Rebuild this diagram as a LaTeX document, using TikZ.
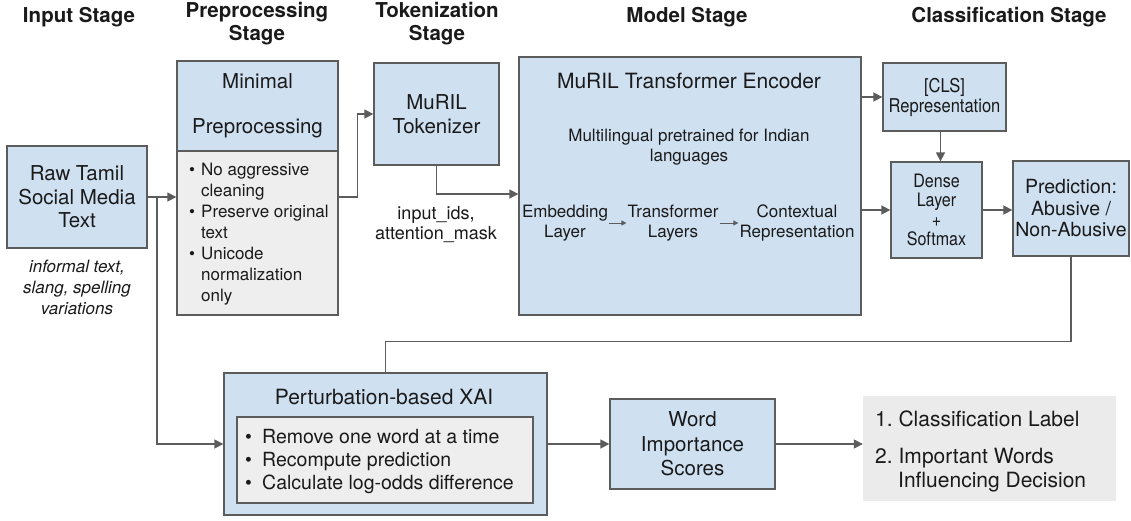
\documentclass[tikz,border=0pt]{standalone}
\usepackage{fontspec}
\setmainfont{TeX Gyre Heros}
\newfontfamily\narrowsans[FakeStretch=0.87]{TeX Gyre Heros}
\usetikzlibrary{arrows.meta,calc}
\definecolor{boxblue}{HTML}{CFE0F1}
\definecolor{boxgrey}{HTML}{EEEEEE}
\definecolor{outgrey}{HTML}{EBEBEB}
\definecolor{edgegrey}{HTML}{5C5C5C}
\definecolor{ink}{HTML}{1A1A1A}
\newcommand\setfs[2]{\fontsize{#1}{#2}\selectfont}
\begin{document}
\begin{tikzpicture}[x=1pt,y=-1pt,
  box/.style={draw=edgegrey, line width=1.3pt, fill=boxblue, inner sep=0pt, align=center, text=ink},
  greybox/.style={box, fill=boxgrey},
  stagehead/.style={font=\setfs{20.5}{23}\bfseries, align=center, text=ink, inner sep=0pt},
  txt/.style={inner sep=1pt, text=ink, align=center},
  link/.style={draw=edgegrey, line width=1.5pt, -{Triangle[length=9pt,width=9pt]}},
  plain/.style={draw=edgegrey, line width=1.5pt},
  small/.style={draw=edgegrey, line width=1pt, -{Triangle[length=5pt,width=5pt]}},
]
\fill[white] (0,0) rectangle (1131,520);
\useasboundingbox (0,0) rectangle (1131,520);

% stage headings
\node[stagehead] (h1) at (79,17) {Input Stage};
\node[stagehead] (h2) at (257,23.5) {Preprocessing\\Stage};
\node[stagehead] (h3) at (437,23.5) {Tokenization\\Stage};
\node[stagehead] (h4) at (687,17) {Model Stage};
\node[stagehead] (h5) at (1009,17) {Classification Stage};

% input
\node[box, minimum width=140, minimum height=102, font=\setfs{20.5}{23.5}] (raw) at (77,197) {Raw Tamil\\Social Media\\Text};
\node[txt, font=\setfs{17}{21}\itshape] (rawnote) at (77,287) {informal text,\\slang, spelling\\variations};

% preprocessing
\node[box, minimum width=161, minimum height=90, font=\setfs{20.5}{45}] (prehead) at (257.5,106) {Minimal\\Preprocessing};
\node[greybox, minimum width=161, minimum height=164] (prebody) at (257.5,233) {};
\node[txt, inner sep=0pt, anchor=west, align=left, font=\setfs{17}{21}] (prelist) at (189,234.5)
  {\makebox[12pt][l]{•}No aggressive\\
   \makebox[12pt][l]{}cleaning\\
   \makebox[12pt][l]{•}Preserve original\\
   \makebox[12pt][l]{}text\\
   \makebox[12pt][l]{•}Unicode\\
   \makebox[12pt][l]{}normalization\\
   \makebox[12pt][l]{}only};

% tokenization
\node[box, minimum width=125, minimum height=102, font=\setfs{20.5}{24}] (tok) at (436.5,114) {MuRIL\\Tokenizer};
\node[txt, font=\setfs{18}{20}] (tokout) at (436,225) {input\_ids,\\attention\_mask};

% model
\node[box, minimum width=342, minimum height=258] (enc) at (690,186) {};
\node[txt, font=\setfs{21}{24}] (enctitle) at (689,81) {MuRIL Transformer Encoder};
\node[txt, font=\setfs{17}{20}] (encnote) at (689,147) {Multilingual pretrained for Indian\\languages};
\node[txt, font=\setfs{17}{20}] (emb) at (565,223) {Embedding\\Layer};
\node[txt, font=\setfs{17}{20}] (trl) at (673,223) {Transformer\\Layers};
\node[txt, font=\setfs{17}{20}] (ctx) at (797,223) {Contextual\\Representation};

% classification
\node[box, minimum width=123, minimum height=68, font=\narrowsans\setfs{19}{20}] (cls) at (944.5,97) {[CLS]\\Representation};
\node[box, minimum width=91, minimum height=96, font=\narrowsans\setfs{18.5}{19.5}] (dense) at (936.5,210) {Dense\\Layer\\+\\Softmax};
\node[box, minimum width=116, minimum height=95, font=\setfs{19.5}{21.5}] (pred) at (1071,208.5) {Prediction:\\Abusive /\\Non-Abusive};

% explanation
\node[box, minimum width=323, minimum height=142] (xai) at (385.5,444) {};
\node[txt, font=\setfs{21}{24}] (xaititle) at (384,397) {Perturbation-based XAI};
\node[greybox, minimum width=296, minimum height=86] (xaibody) at (385,460) {};
\node[txt, inner sep=0pt, anchor=west, align=left, font=\setfs{19.5}{23}] (xailist) at (245,462)
  {\makebox[17pt][l]{•}Remove one word at a time\\
   \makebox[17pt][l]{•}Recompute prediction\\
   \makebox[17pt][l]{•}Calculate log-odds difference};
\node[box, minimum width=165, minimum height=90, font=\setfs{20.5}{24.5}] (word) at (692.5,444) {Word\\Importance\\Scores};
\node[fill=outgrey, minimum width=253, minimum height=105, inner sep=0pt] (out) at (989.5,448.5) {};
\node[txt, inner sep=0pt, anchor=west, align=left, font=\setfs{21}{24}] (outa) at (875,419) {1.\ Classification Label};
\node[txt, inner sep=0pt, anchor=west, align=left, font=\setfs{21}{24}] (outb) at (875,470) {2.\ Important Words\\\makebox[23pt][l]{}Influencing Decision};

% connectors
\coordinate (split) at (157,197);
\draw[link] (raw.east) -- (raw.east -| prebody.west);
\draw[link] (split) |- (xai.west);
\draw[link] (prebody.east |- raw.east) -- ++(19,0) |- (tok.west);
\draw[link] (tok.south) |- ($(enc.west)+(0,8)$);
\draw[small] (emb.east) -- (trl.west);
\draw[small] (trl.east) -- (ctx.west);
\draw[link] (enc.east |- cls.west) -- (cls.west);
\draw[link] (enc.east |- dense.west) -- (dense.west);
\draw[link] (cls.south -| dense.north) ++(4,0) coordinate (clsdrop) -- (clsdrop |- dense.north);
\draw[link] (dense.east) -- (dense.east -| pred.west);
\draw[plain] (pred.south) |- ($(xai.north)+(0,-31)$) -- (xai.north);
\draw[link] (xai.east) -- (word.west);
\draw[link] (word.east) -- (word.east -| out.west);
\end{tikzpicture}
\end{document}
